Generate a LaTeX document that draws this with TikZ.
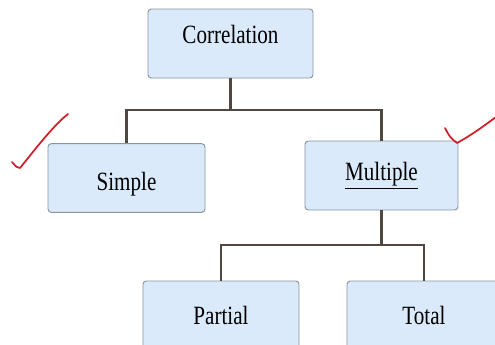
\documentclass[tikz,border=0pt]{standalone}
\usepackage{fontspec}
\setmainfont{Liberation Serif}[FakeStretch=0.8]
\usepackage{tikz}

\definecolor{boxfill}{HTML}{DAEAFB}
\definecolor{boxline}{HTML}{8A949E}
\definecolor{linkcol}{HTML}{4F4841}
\definecolor{tickred}{HTML}{D0202C}

\begin{document}
\begin{tikzpicture}[
  box/.style={rectangle, draw=boxline, fill=boxfill, line width=0.8pt, rounded corners=0.1cm, minimum width=4.7cm, minimum height=2.06cm, font=\fontsize{22.5}{27}\selectfont, text centered},
  link/.style={draw=linkcol, line width=2.1pt},
  tick/.style={draw=tickred, line width=1.5pt, line cap=round, line join=round}
]

\clip (0,0) rectangle (14.85,10.32);
\fill[white] (0,0) rectangle (14.85,10.32);

\node[box, minimum width=4.95cm, minimum height=2.07cm, text depth=0.57cm] (corr) at (6.915, 9.015) {Correlation};

\node[box, minimum width=4.71cm, text height=0.93cm] (simple) at (3.795, 4.98)  {Simple};
\node[box, minimum width=4.59cm, minimum height=2.07cm] (multi)  at (11.445, 5.055) {\underline{Multiple}};

\node[box, minimum width=4.68cm, minimum height=2.07cm] (partial) at (6.63, 0.855)  {Partial};
\node[box, minimum width=4.62cm, minimum height=2.07cm] (total)   at (12.72, 0.855) {Total};

\coordinate (j1) at (6.915, 7.02);
\coordinate (j2) at (11.445, 2.97);

\draw[link] (corr) -- (j1) -| (simple);
\draw[link] (j1) -| (multi);

\draw[link] (multi) -- (j2) -| (partial);
\draw[link] (j2) -| (total);

% hand-drawn ticks
\draw[tick] (0.36,5.46) .. controls (0.5,5.3) .. (0.6,5.28) .. controls (1.1,5.9) and (1.6,6.55) .. (2.04,6.9);
\draw[tick] (13.35,6.48) .. controls (13.5,6.2) .. (13.71,6.03) .. controls (14.2,6.3) and (14.6,6.6) .. (15.2,7.05);

\end{tikzpicture}
\end{document}
